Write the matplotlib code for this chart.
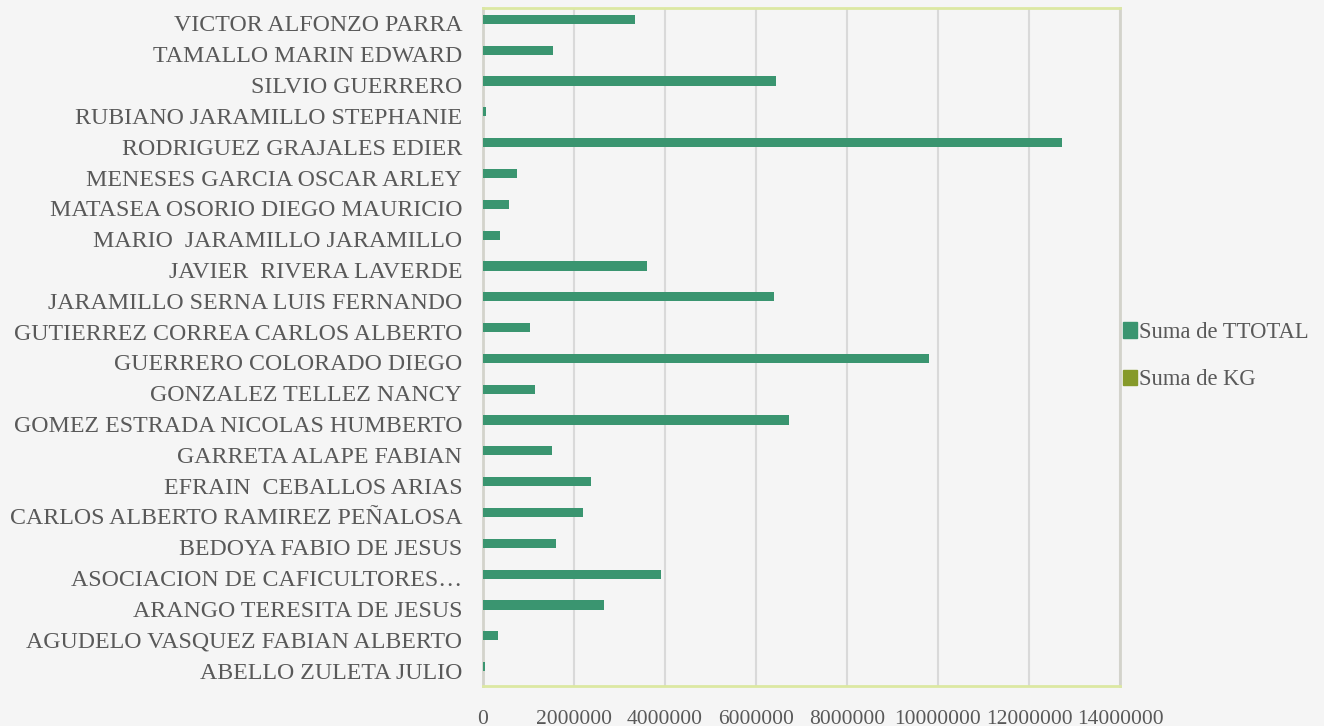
import numpy as np
import matplotlib.pyplot as plt
from matplotlib.patches import Patch

names = [
    "ABELLO ZULETA JULIO",
    "AGUDELO VASQUEZ FABIAN ALBERTO",
    "ARANGO TERESITA DE JESUS",
    "ASOCIACION DE CAFICULTORES\u2026",
    "BEDOYA FABIO DE JESUS",
    "CARLOS ALBERTO RAMIREZ PE\u00d1ALOSA",
    "EFRAIN  CEBALLOS ARIAS",
    "GARRETA ALAPE FABIAN",
    "GOMEZ ESTRADA NICOLAS HUMBERTO",
    "GONZALEZ TELLEZ NANCY",
    "GUERRERO COLORADO DIEGO",
    "GUTIERREZ CORREA CARLOS ALBERTO",
    "JARAMILLO SERNA LUIS FERNANDO",
    "JAVIER  RIVERA LAVERDE",
    "MARIO  JARAMILLO JARAMILLO",
    "MATASEA OSORIO DIEGO MAURICIO",
    "MENESES GARCIA OSCAR ARLEY",
    "RODRIGUEZ GRAJALES EDIER",
    "RUBIANO JARAMILLO STEPHANIE",
    "SILVIO GUERRERO",
    "TAMALLO MARIN EDWARD",
    "VICTOR ALFONZO PARRA",
]

total = [40000, 330000, 2660000, 3910000, 1600000, 2200000, 2370000, 1520000,
         6730000, 1140000, 9800000, 1030000, 6400000, 3600000, 370000, 570000,
         750000, 12730000, 70000, 6440000, 1540000, 3340000]
kg = [20, 150, 1200, 1800, 700, 1000, 1100, 700,
      3000, 500, 4400, 450, 2900, 1600, 170, 260,
      340, 5700, 30, 2900, 700, 1500]

bg = "#f5f5f5"
text_col = "#595959"
plt.rcParams['font.family'] = ['Liberation Serif', 'DejaVu Serif']

fig = plt.figure(figsize=(13.24, 7.26), dpi=100, facecolor=bg)
ax = fig.add_axes([483 / 1324, 1 - 686 / 726, (1120 - 483) / 1324, (686 - 8) / 726])
ax.set_facecolor(bg)

y = np.arange(len(names))
h = 0.3
ax.barh(y + 0.13, total, height=h, color="#3a9570", zorder=3)
ax.barh(y - 0.13, kg, height=h, color="#869a2a", zorder=3)

ax.set_xlim(0, 14000000)
ax.set_ylim(-0.5, len(names) - 0.5)
ax.set_xticks(np.arange(0, 14000001, 2000000))
ax.set_xticklabels([str(v) for v in range(0, 14000001, 2000000)])
ax.set_yticks(y)
ax.set_yticklabels(names)
ax.tick_params(axis='y', length=0, labelsize=17.2, colors=text_col, pad=15)
ax.tick_params(axis='x', length=0, labelsize=15.5, colors=text_col, pad=17)
ax.grid(axis='x', color="#d9d9d9", linewidth=1.5, zorder=0)

for s in ['top', 'bottom']:
    ax.spines[s].set_color("#dce8a2")
    ax.spines[s].set_linewidth(2)
for s in ['left', 'right']:
    ax.spines[s].set_color("#d3d3cb")
    ax.spines[s].set_linewidth(2)

handles = [Patch(color="#3a9570", label="Suma de TTOTAL"),
           Patch(color="#869a2a", label="Suma de KG")]
fig.legend(handles=handles, loc='center left', bbox_to_anchor=(1103 / 1324, 1 - 356 / 726),
           frameon=False, fontsize=16.3, labelcolor=text_col, handlelength=0.6,
           handleheight=0.65, handletextpad=0.1, labelspacing=1.15)

plt.savefig("out.png", dpi=100, facecolor=bg)
